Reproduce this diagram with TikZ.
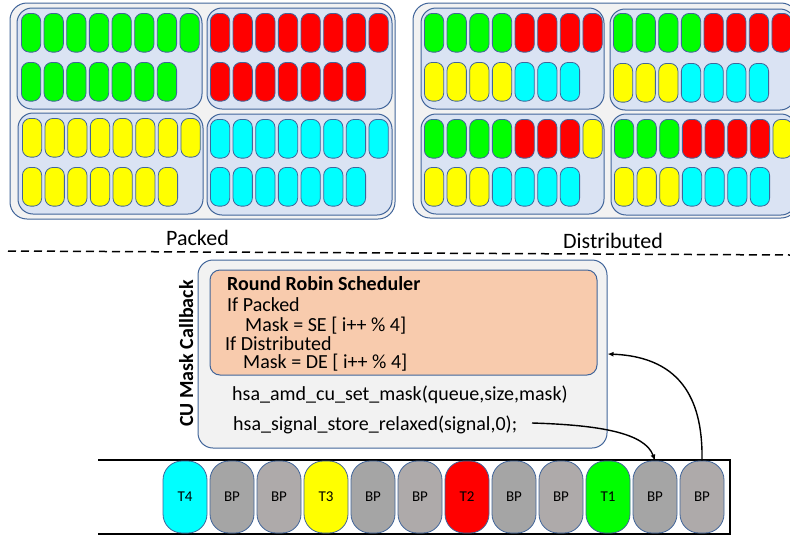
\documentclass[tikz,border=0pt]{standalone}
\usepackage{fontspec}
\setmainfont{Carlito}
\usetikzlibrary{arrows.meta}

\definecolor{pgreen}{HTML}{00FF00}
\definecolor{pred}{HTML}{FF0000}
\definecolor{pyellow}{HTML}{FFFF00}
\definecolor{pcyan}{HTML}{00FFFF}
\definecolor{bpdark}{HTML}{A5A5A5}
\definecolor{bplight}{HTML}{AEAAAA}
\definecolor{edgeblue}{HTML}{41659A}
\definecolor{outerfill}{HTML}{F2F2F2}
\definecolor{innerfill}{HTML}{DAE3F3}
\definecolor{peach}{HTML}{F8CBAD}

\tikzset{
  pill/.style={draw=edgeblue, line width=0.8pt, rounded corners=8pt,
    minimum width=19.3pt, minimum height=38.7pt, inner sep=0pt, anchor=north west},
  qpill/.style={draw=edgeblue, line width=0.8pt, rounded corners=19pt,
    minimum width=44pt, minimum height=72pt, inner sep=0pt,
    font=\fontsize{15}{18}\selectfont},
  outerpanel/.style={draw=edgeblue, line width=1pt, fill=outerfill, rounded corners=17pt},
  innerpanel/.style={draw=edgeblue, line width=1pt, fill=innerfill, rounded corners=15pt},
  biglbl/.style={font=\fontsize{22}{26}\selectfont, inner sep=0pt, anchor=base},
  codeline/.style={font=\fontsize{20}{24}\selectfont, inner sep=0pt, anchor=base west},
  flow/.style={line width=1.4pt, -{Latex[length=6pt,width=5pt]}},
}

% one row of compute-unit pills: name prefix, left x, top y, colour list
\newcommand\pillrow[4]{%
  \foreach \c [count=\i] in {#4}{%
    \node[pill, fill=\c] (#1-\i) at ({#2+(\i-1)*22.65},#3) {};}}

\begin{document}
\begin{tikzpicture}[x=1pt, y=-1pt]
\useasboundingbox (0,0) rectangle (790,536);
\clip (0,0) rectangle (790,536);

% ---------- packed layout ----------
\draw[outerpanel] (10,3) rectangle (395,219);
\draw[innerpanel] (17,8) rectangle (202,109);
\draw[innerpanel] (207,8) rectangle (392,109);
\draw[innerpanel] (18,113) rectangle (203,214);
\draw[innerpanel] (207,114) rectangle (392,215);

\pillrow{pa}{21}{13}{pgreen,pgreen,pgreen,pgreen,pgreen,pgreen,pgreen,pgreen}
\pillrow{pb}{21}{62}{pgreen,pgreen,pgreen,pgreen,pgreen,pgreen,pgreen}
\pillrow{pc}{210}{13}{pred,pred,pred,pred,pred,pred,pred,pred}
\pillrow{pd}{210}{62}{pred,pred,pred,pred,pred,pred,pred}
\pillrow{pe}{22}{118}{pyellow,pyellow,pyellow,pyellow,pyellow,pyellow,pyellow,pyellow}
\pillrow{pf}{22}{167}{pyellow,pyellow,pyellow,pyellow,pyellow,pyellow,pyellow}
\pillrow{pg}{210}{119}{pcyan,pcyan,pcyan,pcyan,pcyan,pcyan,pcyan,pcyan}
\pillrow{ph}{210}{167}{pcyan,pcyan,pcyan,pcyan,pcyan,pcyan,pcyan}

% ---------- distributed layout ----------
\draw[outerpanel] (413,3) rectangle (798,218);
\draw[innerpanel] (421,8) rectangle (604,109);
\draw[innerpanel] (610,9) rectangle (795,110);
\draw[innerpanel] (421,114) rectangle (604,214);
\draw[innerpanel] (611,114) rectangle (796,215);

\pillrow{da}{424}{13}{pgreen,pgreen,pgreen,pgreen,pred,pred,pred,pred}
\pillrow{db}{424}{62}{pyellow,pyellow,pyellow,pyellow,pcyan,pcyan,pcyan}
\pillrow{dc}{613}{13}{pgreen,pgreen,pgreen,pgreen,pred,pred,pred,pred}
\pillrow{dd}{613}{63}{pyellow,pyellow,pyellow,pcyan,pcyan,pcyan,pcyan}
\pillrow{de}{424}{119}{pgreen,pgreen,pgreen,pgreen,pred,pred,pred,pyellow}
\pillrow{df}{424}{167}{pyellow,pyellow,pyellow,pcyan,pcyan,pcyan,pcyan}
\pillrow{dg}{614}{119}{pgreen,pgreen,pgreen,pred,pred,pred,pred,pyellow}
\pillrow{dh}{614}{167}{pyellow,pyellow,pyellow,pcyan,pcyan,pcyan,pcyan}

% ---------- captions and separator ----------
\node[biglbl] (packedlbl) at (197.5,245) {Packed};
\node[biglbl] (distlbl) at (613,248) {Distributed};
\draw[line width=1.5pt, dash pattern=on 8pt off 5pt] (8,251) -- (790,255);

% ---------- CU mask callback ----------
\node[draw=edgeblue, line width=1pt, fill=outerfill, rounded corners=15pt,
      minimum width=409pt, minimum height=188pt, inner sep=0pt] (cubox) at (402.5,354) {};
\node[draw=edgeblue, line width=1pt, fill=peach, rounded corners=10pt,
      minimum width=387pt, minimum height=105pt, inner sep=0pt] (rrbox) at (403.5,322.5) {};
\node[rotate=90, anchor=base, inner sep=0pt, font=\fontsize{20}{24}\selectfont\bfseries]
      (culbl) at (193,353.5) {CU Mask Callback};

\node[codeline, font=\fontsize{20}{24}\selectfont\bfseries] (rrtitle) at (227,290) {Round Robin Scheduler};
\node[codeline] (ifpacked) at (227,311) {If Packed};
\node[codeline] (maskse) at (245,331.5) {Mask = SE [ i++ \% 4]};
\node[codeline] (ifdist) at (225,350) {If Distributed};
\node[codeline] (maskde) at (243,368) {Mask = DE [ i++ \% 4]};
\node[codeline] (setmask) at (232,400) {hsa\_amd\_cu\_set\_mask(queue,size,mask)};
\node[codeline] (sigstore) at (233,430) {hsa\_signal\_store\_relaxed(signal,0);};

% ---------- queue of packets ----------
\draw[line width=2pt] (98,460) -- (730,460) -- (730,534) -- (98,534);
\foreach \lbl/\col [count=\k] in {T4/pcyan, BP/bpdark, BP/bplight, T3/pyellow,
    BP/bpdark, BP/bplight, T2/pred, BP/bpdark, BP/bplight, T1/pgreen, BP/bpdark, BP/bplight}{%
  \node[qpill, fill=\col] (q\k) at ({185+(\k-1)*47},497) {\lbl};}

% ---------- signal and callback flow ----------
\coordinate (sigend) at (532,423);
\coordinate (cuhook) at (cubox.east |- 0,354);
\draw[flow] (sigend) .. controls (600,425) and (645,433) .. (q11.north);
\draw[flow] (q12.north) .. controls (703,405) and (685,357) .. (cuhook);
\end{tikzpicture}
\end{document}
